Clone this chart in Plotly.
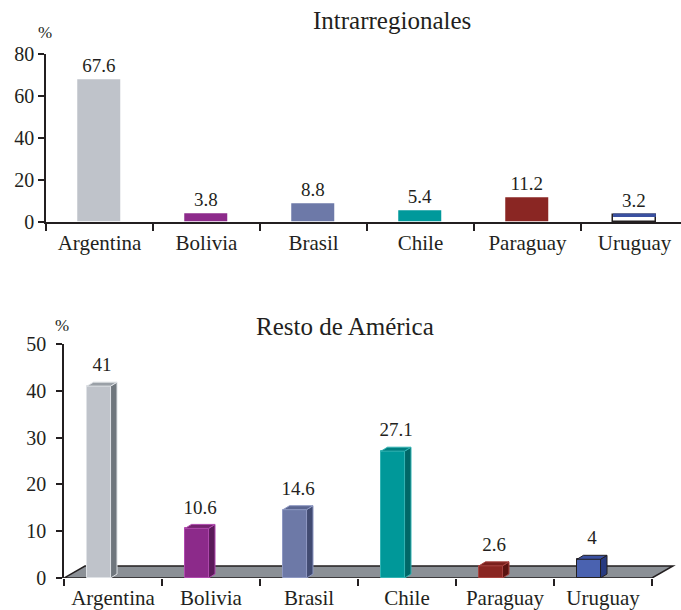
import plotly.graph_objects as go

# ---- data -------------------------------------------------------------
countries = ["Argentina", "Bolivia", "Brasil", "Chile", "Paraguay", "Uruguay"]
intra_pct = [67.6, 3.8, 8.8, 5.4, 11.2, 3.2]      # Intrarregionales
resto_pct = [41, 10.6, 14.6, 27.1, 2.6, 4]         # Resto de América
intra_ticks = [0, 20, 40, 60, 80]
resto_ticks = [0, 10, 20, 30, 40, 50]

# ---- styling ----------------------------------------------------------
FONT = "Liberation Serif"
INK = "#231f20"
W, H = 681, 610

flat_colors = ["#bfc3ca", "#8d2b8b", "#6d79a8", "#00999b", "#8a2623", "#ffffff"]
flat_lines = ["rgba(0,0,0,0)"] * 5 + [INK]
front_colors = ["#bfc3ca", "#8c2a8a", "#6d79a7", "#009899", "#8a2622", "#4a62b0"]
side_colors = ["#6f767d", "#5b1a5a", "#414b72", "#006767", "#5a1311", "#273a80"]
top_colors = ["#9aa0a7", "#74236f", "#5a6590", "#007f80", "#7a201d", "#3a50a0"]
edge_colors = ["#dfe2e6", "#b04aae", "#8e98c2", "#33b3b3", "#a84440", INK]

# 3-D box geometry for the lower chart (category units / % units)
FACE_OFF, FACE_W = -0.265, 0.24
DX, DY = 0.066, 0.85
FLOOR_DX, FLOOR_DY = 0.214, 2.56
LABEL_GAP = 1.3


def px_x(p):
    return p / W


def px_y(p):
    return 1 - p / H


idx = list(range(len(countries)))
fig = go.Figure()

# ---- upper chart: flat bars --------------------------------------------
fig.add_trace(go.Bar(
    x=idx, y=intra_pct, width=0.41,
    marker=dict(color=flat_colors, line=dict(color=flat_lines, width=1.5)),
    text=[f"{v:g}" for v in intra_pct], textposition="outside",
    textfont=dict(family=FONT, size=19, color=INK),
    cliponaxis=False, xaxis="x", yaxis="y", showlegend=False, hoverinfo="skip",
))
# blue lid on the Uruguay bar
u = countries.index("Uruguay")
fig.add_trace(go.Scatter(
    x=[u - 0.2, u + 0.2], y=[intra_pct[u], intra_pct[u]], mode="lines",
    line=dict(color="#3a50a0", width=3.5), xaxis="x", yaxis="y",
    showlegend=False, hoverinfo="skip", cliponaxis=False,
))

# ---- lower chart: pseudo 3-D boxes --------------------------------------
fig.add_trace(go.Bar(
    x=idx, y=resto_pct, base=0, offset=FACE_OFF, width=FACE_W,
    marker=dict(color=front_colors, line=dict(color=edge_colors, width=1)),
    xaxis="x2", yaxis="y2", showlegend=False, hoverinfo="skip",
))
for i, v in zip(idx, resto_pct):
    l = i + FACE_OFF
    r = l + FACE_W
    edge = INK if countries[i] == "Uruguay" else edge_colors[i]
    # side face
    fig.add_trace(go.Scatter(
        x=[r, r + DX, r + DX, r, r], y=[0, DY, v + DY, v, 0],
        mode="lines", fill="toself", fillcolor=side_colors[i],
        line=dict(color=edge, width=1), xaxis="x2", yaxis="y2",
        showlegend=False, hoverinfo="skip",
    ))
    # top face
    fig.add_trace(go.Scatter(
        x=[l, l + DX, r + DX, r, l], y=[v, v + DY, v + DY, v, v],
        mode="lines", fill="toself", fillcolor=top_colors[i],
        line=dict(color=edge, width=1), xaxis="x2", yaxis="y2",
        showlegend=False, hoverinfo="skip",
    ))

fig.add_trace(go.Scatter(
    x=[i + FACE_OFF + (FACE_W + DX) / 2 for i in idx],
    y=[v + DY + LABEL_GAP for v in resto_pct],
    mode="text", text=[f"{v:g}" for v in resto_pct], textposition="top center",
    textfont=dict(family=FONT, size=19, color=INK),
    xaxis="x2", yaxis="y2", showlegend=False, hoverinfo="skip", cliponaxis=False,
))

# floor of the 3-D chart
n = len(countries)
fig.add_shape(
    type="path", xref="x2", yref="y2", layer="below",
    path=(f"M {-0.5} 0 L {-0.5 + FLOOR_DX} {FLOOR_DY} "
          f"L {n - 0.5 + FLOOR_DX} {FLOOR_DY} L {n - 0.5} 0 Z"),
    fillcolor="#8b9096", line=dict(color=INK, width=1.5),
)

# ---- axes ----------------------------------------------------------------
boundaries = [i - 0.5 for i in range(n + 1)]
common_x = dict(
    tickmode="array", tickvals=idx, ticktext=countries,
    ticks="outside", ticklen=1, tickcolor="rgba(0,0,0,0)",
    tickfont=dict(family=FONT, size=21, color=INK),
    showgrid=False, zeroline=False, fixedrange=True, automargin=False,
    minor=dict(tickmode="array", tickvals=boundaries, ticks="outside",
               ticklen=7, tickwidth=1.5, tickcolor=INK, showgrid=False),
)
common_y = dict(
    ticks="outside", ticklen=6, tickwidth=1.5, tickcolor=INK,
    showline=True, linecolor=INK, linewidth=1.5,
    tickfont=dict(family=FONT, size=20, color=INK),
    showgrid=False, zeroline=False, fixedrange=True, automargin=False,
)

fig.update_layout(
    width=W, height=H, margin=dict(l=0, r=0, t=0, b=0),
    paper_bgcolor="white", plot_bgcolor="rgba(0,0,0,0)",
    bargap=0, showlegend=False,
    xaxis=dict(common_x, domain=[px_x(46), 1], range=[-0.5, 5.435],
               showline=True, linecolor=INK, linewidth=1.5, anchor="y"),
    yaxis=dict(common_y, domain=[px_y(222), px_y(54)], range=[0, 80],
               tickmode="array", tickvals=intra_ticks, anchor="x"),
    xaxis2=dict(common_x, domain=[px_x(64), 1], range=[-0.5, 5.796],
                showline=False, anchor="y2"),
    yaxis2=dict(common_y, domain=[px_y(578), px_y(344)], range=[0, 50],
                tickmode="array", tickvals=resto_ticks, anchor="x2",
                ticklabelstandoff=6),
)

# titles and unit markers
for text, x, y, size in [
    ("Intrarregionales", 392, 20, 25),
    ("Resto de América", 345, 326, 25),
    ("%", 45, 33, 17),
    ("%", 62, 325, 17),
]:
    fig.add_annotation(
        text=text, x=px_x(x), y=px_y(y), xref="paper", yref="paper",
        xanchor="center", yanchor="middle", showarrow=False,
        font=dict(family=FONT, size=size, color=INK),
    )

fig.write_html("out.html")
